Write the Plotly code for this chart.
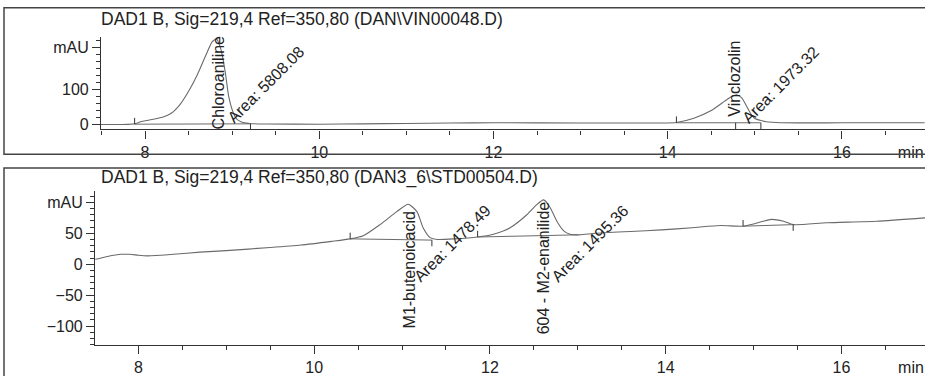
import plotly.graph_objects as go

# ---------------- data ----------------
# Top chromatogram (DAN\VIN00048.D)
top_t = [7.49, 7.6, 7.7, 7.8, 7.88, 7.95, 8.05, 8.2, 8.3, 8.4, 8.5, 8.6, 8.7, 8.77, 8.82,
         8.87, 8.92, 8.96, 9.0, 9.05, 9.1, 9.2, 9.4, 10.0, 10.5, 11.0, 11.5, 12.0, 13.0,
         13.6, 14.1, 14.3, 14.5, 14.65, 14.72, 14.79, 14.85, 14.9, 14.95, 15.0, 15.06,
         15.13, 15.3, 16.0, 16.95]
top_y = [0, 0, 0, 0.5, 2, 8, 13, 21, 32, 57, 95, 142, 199, 236, 244,
         215, 150, 80, 42, 16, 8, 3, 1.5, 1, 2, 3, 4.5, 5, 4.5,
         4.5, 6, 18, 40, 66, 78, 85, 76, 55, 32, 17, 12,
         8, 5, 5, 5]
top_base_t = [[7.88, 9.21], [14.1, 15.07]]
top_base_y = [[1, 2], [5, 5]]
top_ev_t = [7.88, 9.21, 14.1, 14.78, 15.07]
top_ev_y = [1, 2, 5, 5, 5]
top_ev_dir = [1, -1, 1, -1, -1]
top_labels = ["Chloroaniline", "Vinclozolin"]
top_label_t = [8.84, 14.77]
top_label_y = [118, 130]
top_areas = ["Area: 5808.08", "Area: 1973.32"]
top_area_t = [9.39, 15.30]
top_area_y = [113, 115]

# Bottom chromatogram (DAN3_6\STD00504.D)
bot_t = [7.51, 7.6, 7.7, 7.8, 7.9, 8.0, 8.1, 8.2, 8.4, 8.7, 9.0, 9.5, 9.85, 10.2, 10.41,
         10.56, 10.75, 10.94, 11.07, 11.17, 11.24, 11.32, 11.4, 11.6, 11.86, 12.04, 12.23,
         12.42, 12.53, 12.61, 12.68, 12.76, 12.84, 12.91, 13.02, 13.2, 13.6, 13.95, 14.3,
         14.62, 14.88, 15.0, 15.1, 15.2, 15.34, 15.45, 15.83, 16.4, 16.95]
bot_y = [8, 11, 14, 16, 16, 14.5, 13.5, 14, 16, 19.5, 22, 27, 31, 37, 41,
         46, 64, 85, 97, 85, 59, 43, 40, 41, 44, 48.5, 59,
         80, 96, 104, 93, 70, 54, 48.5, 47.5, 50, 53, 55.5, 59,
         62.5, 61.5, 65, 69, 72.5, 69.5, 64, 67, 69.5, 75]
bot_base_t = [[10.41, 11.34], [11.86, 13.0], [14.88, 15.45]]
bot_base_y = [[41, 39], [44, 47.5], [61.5, 64]]
bot_ev_t = [10.41, 11.34, 11.86, 14.88, 15.45]
bot_ev_y = [41, 39, 44, 61.5, 64]
bot_ev_dir = [1, -1, 1, 1, -1]
bot_labels = ["M1-butenoicacid", "604 - M2-enanilide"]
bot_label_t = [11.08, 12.62]
bot_label_y = [-10, -6]
bot_areas = ["Area: 1478.49", "Area: 1495.36"]
bot_area_t = [11.57, 13.14]
bot_area_y = [34, 33]

titles = ["DAD1 B, Sig=219,4 Ref=350,80 (DAN\\VIN00048.D)",
          "DAD1 B, Sig=219,4 Ref=350,80 (DAN3_6\\STD00504.D)"]
x_ticks = [8, 10, 12, 14, 16]
unit_tick = [16.79]          # where the "min" unit label sits on the time axis
unit_text = ["min"]
top_yticks = [0, 100, 220]
top_yticktext = ["0", "100", "mAU"]
bot_yticks = [-100, -50, 0, 50, 100]
bot_yticktext = ["\u2212100", "\u221250", "0", "50", "mAU"]

# ---------------- style ----------------
W, H = 925, 376
FONT = "Liberation Sans, Arial, sans-serif"
LINE = "#6a6a6a"
AX = "#333333"
TXT = "#222222"

def px_x(p):
    return p / W

def px_y(p):
    return 1 - p / H

fig = go.Figure()

def add_panel(xa, ya, t, y, base_t, base_y, ev_t, ev_y, ev_dir, evlen):
    fig.add_trace(go.Scatter(x=t, y=y, mode="lines",
                             line=dict(color=LINE, width=1.1, shape="spline", smoothing=0.6),
                             xaxis=xa, yaxis=ya, showlegend=False, hoverinfo="skip"))
    bx, by = [], []
    for bt, bv in zip(base_t, base_y):
        bx += bt + [None]
        by += bv + [None]
    fig.add_trace(go.Scatter(x=bx, y=by, mode="lines", line=dict(color=LINE, width=1),
                             xaxis=xa, yaxis=ya, showlegend=False, hoverinfo="skip"))
    ex, ey = [], []
    for et, ev, d in zip(ev_t, ev_y, ev_dir):
        ex += [et, et, None]
        ey += [ev, ev + d * evlen, None]
    fig.add_trace(go.Scatter(x=ex, y=ey, mode="lines", line=dict(color=AX, width=1),
                             xaxis=xa, yaxis=ya, showlegend=False, hoverinfo="skip"))

add_panel("x", "y", top_t, top_y, top_base_t, top_base_y, top_ev_t, top_ev_y, top_ev_dir, 18)
add_panel("x2", "y2", bot_t, bot_y, bot_base_t, bot_base_y, bot_ev_t, bot_ev_y, bot_ev_dir, 10)
# empty traces so the unit-label overlay axes are drawn
for xa, ya in [("x3", "y"), ("x4", "y2")]:
    fig.add_trace(go.Scatter(x=[None], y=[None], mode="lines", xaxis=xa, yaxis=ya,
                             showlegend=False, hoverinfo="skip"))

axis_common = dict(showline=True, linecolor=AX, linewidth=1.2, ticks="outside",
                   tickcolor=AX, tickwidth=1, ticklen=8, showgrid=False, zeroline=False,
                   tickfont=dict(family=FONT, size=16, color=TXT), fixedrange=True)
unit_axis = dict(showline=False, ticks="outside", tickcolor="rgba(0,0,0,0)", ticklen=8,
                 showgrid=False, zeroline=False, side="bottom",
                 tickvals=unit_tick, ticktext=unit_text,
                 tickfont=dict(family=FONT, size=16, color=TXT), fixedrange=True)

top_xrange = [7.494, 16.954]
bot_xrange = [7.507, 16.95]

fig.update_layout(
    width=W, height=H, margin=dict(l=0, r=0, t=0, b=0),
    paper_bgcolor="white", plot_bgcolor="white", showlegend=False,
    xaxis=dict(domain=[px_x(101), 1], range=top_xrange, anchor="y",
               tickvals=x_ticks, ticktext=[str(v) for v in x_ticks],
               minor=dict(ticks="outside", tickmode="linear", tick0=0, dtick=0.5,
                          ticklen=4, tickcolor=AX), **axis_common),
    xaxis3=dict(overlaying="x", anchor="y", range=top_xrange, **unit_axis),
    yaxis=dict(domain=[px_y(133.3), px_y(38)], range=[-13.9, 250], anchor="x",
               tickvals=top_yticks, ticktext=top_yticktext,
               minor=dict(ticks="outside", tickmode="linear", tick0=0, dtick=20,
                          ticklen=4, tickcolor=AX), **axis_common),
    xaxis2=dict(domain=[px_x(95), 1], range=bot_xrange, anchor="y2",
                tickvals=x_ticks, ticktext=[str(v) for v in x_ticks],
                minor=dict(ticks="outside", tickmode="linear", tick0=0, dtick=0.5,
                           ticklen=4, tickcolor=AX), **axis_common),
    xaxis4=dict(overlaying="x2", anchor="y2", range=bot_xrange, **unit_axis),
    yaxis2=dict(domain=[px_y(355), px_y(197)], range=[-130, 118], anchor="x2",
                tickvals=bot_yticks, ticktext=bot_yticktext,
                minor=dict(ticks="outside", tickmode="linear", tick0=0, dtick=10,
                           ticklen=4, tickcolor=AX), **axis_common),
)

# frames
fig.add_shape(type="rect", xref="paper", yref="paper", x0=px_x(4), x1=1.02,
              y0=px_y(159), y1=px_y(8), line=dict(color="#444444", width=1.5))
fig.add_shape(type="rect", xref="paper", yref="paper", x0=px_x(4), x1=1.02,
              y0=-0.05, y1=px_y(173), line=dict(color="#444444", width=1.5))

ann_font = dict(family=FONT, size=16, color=TXT)

# titles
for title, yc in zip(titles, [20, 183]):
    fig.add_annotation(text=title, xref="paper", yref="paper", x=px_x(99), y=px_y(yc),
                       xanchor="left", yanchor="middle", showarrow=False,
                       font=dict(family=FONT, size=17.5, color=TXT))

# peak labels
for xa, ya, labs, lt, ly, areas, at, ay in [
        ("x", "y", top_labels, top_label_t, top_label_y, top_areas, top_area_t, top_area_y),
        ("x2", "y2", bot_labels, bot_label_t, bot_label_y, bot_areas, bot_area_t, bot_area_y)]:
    for s, xv, yv in zip(labs, lt, ly):
        fig.add_annotation(text=s, xref=xa, yref=ya, x=xv, y=yv, textangle=-90,
                           xanchor="center", yanchor="middle", showarrow=False,
                           font=ann_font, borderpad=0)
    for s, xv, yv in zip(areas, at, ay):
        fig.add_annotation(text=s, xref=xa, yref=ya, x=xv, y=yv, textangle=-45,
                           xanchor="center", yanchor="middle", showarrow=False,
                           font=ann_font, borderpad=0)

fig.write_html("out.html")
